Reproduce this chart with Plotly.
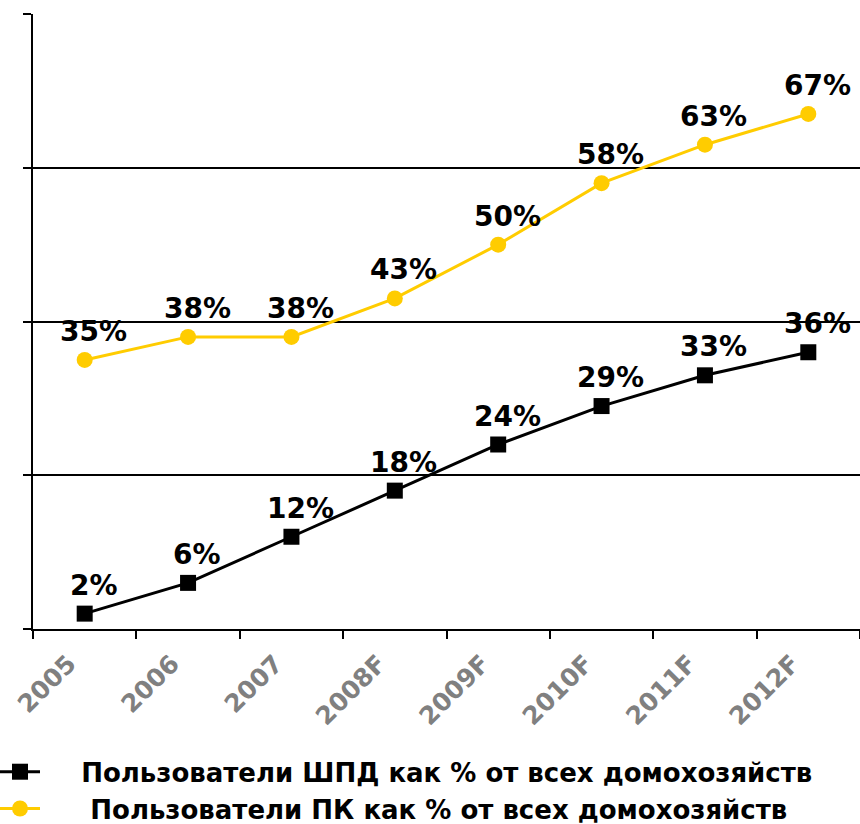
import plotly.graph_objects as go

years = ["2005", "2006", "2007", "2008F", "2009F", "2010F", "2011F", "2012F"]
broadband_share = [2, 6, 12, 18, 24, 29, 33, 36]
pc_share = [35, 38, 38, 43, 50, 58, 63, 67]

NBSP = "\u00a0"
broadband_name = NBSP * 4 + "Пользователи ШПД как % от всех домохозяйств"
pc_name = NBSP * 5 + "Пользователи ПК как % от всех домохозяйств"

BLACK = "#000000"
YELLOW = "#FFCC00"
LABEL_FONT = dict(family="DejaVu Sans", size=28, color="#000000", weight="bold")

fig = go.Figure()
fig.add_trace(go.Scatter(
    x=years, y=broadband_share, name=broadband_name,
    mode="lines+markers",
    line=dict(color=BLACK, width=3),
    marker=dict(symbol="square", size=16, color=BLACK),
))
fig.add_trace(go.Scatter(
    x=years, y=pc_share, name=pc_name,
    mode="lines+markers",
    line=dict(color=YELLOW, width=3),
    marker=dict(symbol="circle", size=16, color=YELLOW),
))

# value labels above each point (category index used as x position)
for series in (broadband_share, pc_share):
    for i, v in enumerate(series):
        fig.add_annotation(
            x=i, y=v, xref="x", yref="y", text=f"{v}%", showarrow=False,
            yanchor="bottom", yshift=10, xshift=9,
            font=LABEL_FONT,
        )

fig.update_layout(
    width=860, height=824,
    margin=dict(l=33, r=0, t=14, b=195, autoexpand=False),
    paper_bgcolor="white", plot_bgcolor="white",
    showlegend=True,
    legend=dict(
        x=-38 / 827, y=-0.194, xanchor="left", yanchor="top",
        font=dict(family="DejaVu Sans", size=26, color="#000000", weight="bold"),
        itemwidth=40, tracegroupgap=0,
        bgcolor="rgba(0,0,0,0)",
    ),
    xaxis=dict(
        type="category", tickson="boundaries",
        showline=True, linecolor=BLACK, linewidth=2,
        ticks="outside", ticklen=8, tickcolor=BLACK, tickwidth=2,
        tickangle=-45, ticklabelshift=-16, ticklabelstandoff=8,
        tickfont=dict(family="DejaVu Sans", size=25, color="#808080", weight="bold"),
        showgrid=False, range=[-0.5, 7.5],
    ),
    yaxis=dict(
        range=[0, 80], tickvals=[0, 20, 40, 60, 80],
        showticklabels=False,
        showline=True, linecolor=BLACK, linewidth=2,
        ticks="outside", ticklen=8, tickcolor=BLACK, tickwidth=2,
        showgrid=True, gridcolor=BLACK, gridwidth=2,
        zeroline=False,
    ),
)

fig.write_html("out.html")
